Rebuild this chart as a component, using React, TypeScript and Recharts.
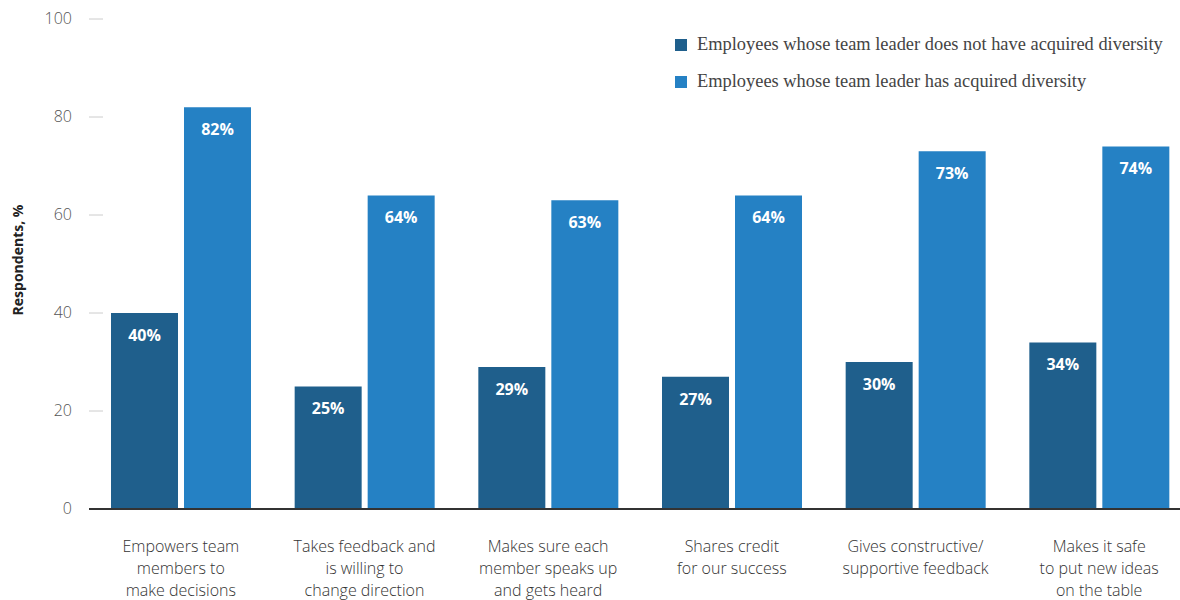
import React from 'react';
import { BarChart, Bar, XAxis, YAxis, Legend, LabelList, ReferenceLine } from 'recharts';

const categories = [
  'Empowers team\nmembers to\nmake decisions',
  'Takes feedback and\nis willing to\nchange direction',
  'Makes sure each\nmember speaks up\nand gets heard',
  'Shares credit\nfor our success',
  'Gives constructive/\nsupportive feedback',
  'Makes it safe\nto put new ideas\non the table',
];
const withoutDiversity = [40, 25, 29, 27, 30, 34];
const withDiversity = [82, 64, 63, 64, 73, 74];
const yTicks = [0, 20, 40, 60, 80, 100];

const seriesNames = [
  'Employees whose team leader does not have acquired diversity',
  'Employees whose team leader has acquired diversity',
];

const DARK = '#1F5F8C';
const LIGHT = '#2581C4';
const SANS = '"Open Sans", "Noto Sans", sans-serif';
const SERIF = '"Liberation Serif", "DejaVu Serif", serif';

const data = categories.map((name, i) => ({
  name,
  without: withoutDiversity[i],
  with: withDiversity[i],
}));

const YTick = (props: any) => {
  const { x, y, payload } = props;
  return (
    <g>
      <text x={x} y={y} dy={5} textAnchor="end" fill="#555" fontSize={16} fontFamily={SANS} fontWeight={300}>
        {payload.value}
      </text>
      {payload.value !== 0 && <line x1={x + 17} x2={x + 31} y1={y} y2={y} stroke="#ccc" strokeWidth={1} />}
    </g>
  );
};

const XTick = (props: any) => {
  const { x, y, payload } = props;
  const lines = String(payload.value).split('\n');
  return (
    <text x={x} y={y} textAnchor="middle" fill="#333" fontSize={16} fontFamily={SANS} fontWeight={300}>
      {lines.map((l, i) => (
        <tspan key={i} x={x} dy={i === 0 ? 35 : 22}>
          {l}
        </tspan>
      ))}
    </text>
  );
};

const LegendContent = () => (
  <div style={{ fontFamily: SERIF, fontSize: 18.4, color: '#444' }}>
    {seriesNames.map((n, i) => (
      <div key={n} style={{ display: 'flex', alignItems: 'center', height: 37 }}>
        <span style={{ width: 12, height: 12, background: i === 0 ? DARK : LIGHT, marginRight: 10, display: 'inline-block' }} />
        <span>{n}</span>
      </div>
    ))}
  </div>
);

const YLabel = (props: any) => {
  const { viewBox } = props;
  const x = viewBox.x + 23;
  const y = viewBox.y + viewBox.height / 2 - 4;
  return (
    <text x={x} y={y} transform={`rotate(-90, ${x}, ${y})`} textAnchor="middle" fill="#222" fontSize={14} fontWeight={700} fontFamily={SANS}>
      Respondents, %
    </text>
  );
};

export default function App() {
  return (
    <div style={{ width: 1180, height: 600, overflow: 'hidden', position: 'absolute', top: 0, left: 0, background: '#fff' }}>
      <BarChart
        width={1200}
        height={600}
        data={data}
        margin={{ top: 19, right: 9, bottom: 0, left: 0 }}
        barSize={67}
        barGap={6}
      >
        <XAxis dataKey="name" tick={<XTick />} tickLine={false} axisLine={false} interval={0} height={91} />
        <YAxis
          domain={[0, 100]}
          ticks={yTicks}
          width={89}
          tickSize={0}
          tickMargin={17}
          axisLine={false}
          tick={<YTick />}
          label={<YLabel />}
        />
        <ReferenceLine y={0} stroke="#333" strokeWidth={2} />
        <Legend
          content={<LegendContent />}
          layout="vertical"
          verticalAlign="middle"
          align="center"
          wrapperStyle={{ top: 26, left: 675, width: 540 }}
        />
        <Bar dataKey="without" name={seriesNames[0]} fill={DARK} isAnimationActive={false}>
          <LabelList dataKey="without" position="insideTop" offset={16.5} fill="#fff" fontSize={16} fontWeight={700} fontFamily={SANS} formatter={(v: any) => `${v}%`} />
        </Bar>
        <Bar dataKey="with" name={seriesNames[1]} fill={LIGHT} isAnimationActive={false}>
          <LabelList dataKey="with" position="insideTop" offset={16.5} fill="#fff" fontSize={16} fontWeight={700} fontFamily={SANS} formatter={(v: any) => `${v}%`} />
        </Bar>
      </BarChart>
    </div>
  );
}
